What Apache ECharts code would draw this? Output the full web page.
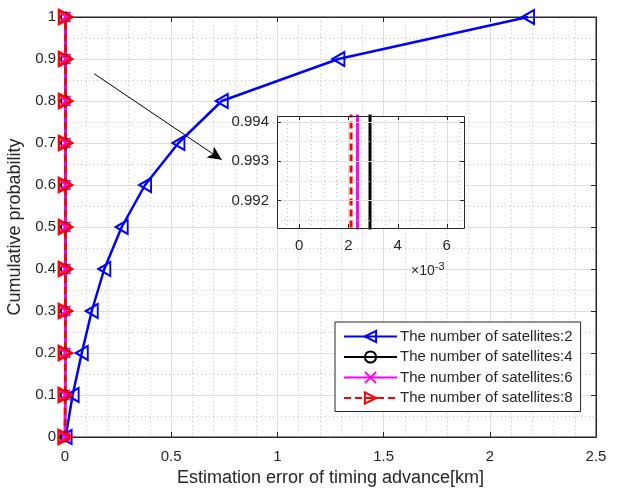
<!DOCTYPE html>
<html>
<head>
<meta charset="utf-8">
<script src="https://cdn.jsdelivr.net/npm/echarts@6/dist/echarts.min.js"></script>
<style>
  html, body { margin: 0; padding: 0; background: #fff; }
  #chart { width: 618px; height: 489px; }
</style>
</head>
<body>
<div id="chart"></div>
<script>
// Cumulative probability levels (shared by all curves)
const probLevels = [0, 0.1, 0.2, 0.3, 0.4, 0.5, 0.6, 0.7, 0.8, 0.9, 1];

// Estimation error of timing advance [km] at each probability level
const errSat2 = [0.003, 0.036, 0.079, 0.126, 0.185, 0.267, 0.377, 0.534, 0.738, 1.287, 2.18];
const errSat4 = [0.0000, 0.0011, 0.0016, 0.0019, 0.0022, 0.0024, 0.0026, 0.0027, 0.0028, 0.00288, 0.00288];
const errSat6 = [0.0000, 0.0009, 0.0013, 0.0016, 0.0018, 0.0020, 0.0021, 0.0022, 0.0023, 0.00237, 0.00237];
const errSat8 = [0.0000, 0.0008, 0.0012, 0.0014, 0.0016, 0.0018, 0.0019, 0.0020, 0.0021, 0.00211, 0.00211];

const seriesNames = [
  'The number of satellites:2',
  'The number of satellites:4',
  'The number of satellites:6',
  'The number of satellites:8'
];

// Main axes
const mainXRange = [0, 2.5];
const mainYRange = [0, 1];

// Zoomed view
const insetXRange = [-0.0009, 0.0067];
const insetYRange = [0.99130, 0.99414];
const insetXTicks = [0, 0.002, 0.004, 0.006];
const insetYTicks = [0.992, 0.993, 0.994];
const insetXMinor = [-0.0005, 0.0005, 0.001, 0.0015, 0.0025, 0.003, 0.0035, 0.0045, 0.005, 0.0055, 0.0065];
const insetYMinor = [0.9915, 0.9925, 0.9935];

// Arrow pointing from the curves near zero to the zoomed view
const arrowFrom = [0.137, 0.865];
const arrowTo = [0.738, 0.660];

const FONT = "'Liberation Sans', Arial, Helvetica, sans-serif";
const TXT = '#262626';
const MAJOR = '#dedede';
const MINOR = '#c4c4c4';
const NONE = 'rgba(0,0,0,0)';

const pairs = arr => probLevels.map((p, i) => [arr[i], p]);

const chart = echarts.init(document.getElementById('chart'), null, { renderer: 'canvas' });

function frameAxis(gridIndex, pos, range, extra) {
  return Object.assign({
    type: 'value', gridIndex: gridIndex, position: pos,
    min: range[0], max: range[1],
    axisLine: { show: true, onZero: false, lineStyle: { color: TXT, width: 1 } },
    axisTick: { show: true, inside: true, length: 5, lineStyle: { color: TXT } },
    axisLabel: { show: false },
    splitLine: { show: false },
    minorTick: { show: false },
    minorSplitLine: { show: false }
  }, extra || {});
}

const labelStyle = { color: TXT, fontFamily: FONT, fontSize: 15 };

// Corners of the zoomed view in pixels
function insetCorners(api) {
  return {
    tl: api.coord([insetXRange[0], insetYRange[1]]),
    br: api.coord([insetXRange[1], insetYRange[0]])
  };
}

// White backing of the zoomed view
function renderInsetBacking(params, api) {
  const { tl, br } = insetCorners(api);
  return {
    type: 'rect',
    shape: { x: tl[0], y: tl[1], width: br[0] - tl[0], height: br[1] - tl[1] },
    style: { fill: '#ffffff', stroke: null }
  };
}

// Grid lines, ticks and frame of the zoomed view
function renderInsetFrame(params, api) {
  const { tl, br } = insetCorners(api);
  const children = [];
  const vLine = (v, style) => {
    const x = Math.round(api.coord([v, insetYRange[0]])[0]) + 0.5;
    children.push({ type: 'line', shape: { x1: x, y1: tl[1], x2: x, y2: br[1] }, style: style });
  };
  const hLine = (v, style) => {
    const y = Math.round(api.coord([insetXRange[0], v])[1]) + 0.5;
    children.push({ type: 'line', shape: { x1: tl[0], y1: y, x2: br[0], y2: y }, style: style });
  };
  const dotted = { stroke: MINOR, lineWidth: 1, lineDash: [1, 3], fill: null };
  const solid = { stroke: MAJOR, lineWidth: 1, fill: null };
  insetXMinor.forEach(v => vLine(v, dotted));
  insetYMinor.forEach(v => hLine(v, dotted));
  insetXTicks.forEach(v => vLine(v, solid));
  insetYTicks.forEach(v => hLine(v, solid));
  const tick = { stroke: TXT, lineWidth: 1, fill: null };
  insetXTicks.forEach(v => {
    const x = Math.round(api.coord([v, insetYRange[0]])[0]) + 0.5;
    children.push({ type: 'line', shape: { x1: x, y1: br[1], x2: x, y2: br[1] - 4 }, style: tick });
    children.push({ type: 'line', shape: { x1: x, y1: tl[1], x2: x, y2: tl[1] + 4 }, style: tick });
  });
  insetYTicks.forEach(v => {
    const y = Math.round(api.coord([insetXRange[0], v])[1]) + 0.5;
    children.push({ type: 'line', shape: { x1: tl[0], y1: y, x2: tl[0] + 4, y2: y }, style: tick });
    children.push({ type: 'line', shape: { x1: br[0], y1: y, x2: br[0] - 4, y2: y }, style: tick });
  });
  children.push({
    type: 'rect',
    shape: { x: Math.round(tl[0]) + 0.5, y: Math.round(tl[1]) + 0.5, width: Math.round(br[0] - tl[0]), height: Math.round(br[1] - tl[1]) },
    style: { fill: null, stroke: TXT, lineWidth: 1 }
  });
  return { type: 'group', children: children };
}

const option = {
  animation: false,
  backgroundColor: '#fff',
  textStyle: { fontFamily: FONT },
  grid: [
    { left: 65, top: 17, width: 531, height: 420, show: true, borderColor: TXT, borderWidth: 1, backgroundColor: NONE, containLabel: false, outerBoundsMode: 'none' },
    { left: 277, top: 116, width: 187, height: 112, show: false, containLabel: false, outerBoundsMode: 'none' }
  ],
  xAxis: [
    // main bottom axis
    {
      type: 'value', gridIndex: 0, position: 'bottom',
      min: mainXRange[0], max: mainXRange[1], interval: 0.5,
      name: 'Estimation error of timing advance[km]',
      nameLocation: 'middle', nameGap: 32,
      nameTextStyle: { color: TXT, fontFamily: FONT, fontSize: 18 },
      axisLine: { show: true, onZero: false, lineStyle: { color: TXT } },
      axisTick: { show: true, inside: true, length: 5, lineStyle: { color: TXT } },
      axisLabel: Object.assign({ margin: 12 }, labelStyle),
      splitLine: { show: true, lineStyle: { color: MAJOR, width: 1 } },
      minorTick: { show: false, splitNumber: 5 },
      minorSplitLine: { show: true, lineStyle: { color: MINOR, width: 1, type: [1, 3] } }
    },
    frameAxis(0, 'top', mainXRange, { interval: 0.5 }),
    // zoomed view
    {
      type: 'value', gridIndex: 1, position: 'bottom',
      min: insetXRange[0], max: insetXRange[1],
      axisLine: { show: false },
      axisTick: { show: false },
      axisLabel: Object.assign({ margin: 10, customValues: insetXTicks, formatter: v => String(Math.round(v * 1000)) }, labelStyle),
      splitLine: { show: false }
    }
  ],
  yAxis: [
    {
      type: 'value', gridIndex: 0, position: 'left',
      min: mainYRange[0], max: mainYRange[1], interval: 0.1,
      name: 'Cumulative probability',
      nameLocation: 'middle', nameGap: 33,
      nameTextStyle: { color: TXT, fontFamily: FONT, fontSize: 18 },
      axisLine: { show: true, onZero: false, lineStyle: { color: TXT } },
      axisTick: { show: true, inside: true, length: 5, lineStyle: { color: TXT } },
      axisLabel: Object.assign({ margin: 9 }, labelStyle),
      splitLine: { show: true, lineStyle: { color: MAJOR, width: 1 } },
      minorTick: { show: false, splitNumber: 2 },
      minorSplitLine: { show: true, lineStyle: { color: MINOR, width: 1, type: [1, 3] } }
    },
    frameAxis(0, 'right', mainYRange, { interval: 0.1 }),
    {
      type: 'value', gridIndex: 1, position: 'left',
      min: insetYRange[0], max: insetYRange[1],
      axisLine: { show: false },
      axisTick: { show: false },
      axisLabel: Object.assign({ margin: 8, customValues: insetYTicks, formatter: v => v.toFixed(3) }, labelStyle),
      splitLine: { show: false }
    }
  ],
  legend: {
    orient: 'vertical',
    left: 335, top: 322,
    data: seriesNames,
    backgroundColor: '#fff',
    borderColor: TXT, borderWidth: 1, borderRadius: 0,
    padding: [7, 8, 6, 8],
    itemGap: 5.5, itemWidth: 53, itemHeight: 14,
    textStyle: { color: TXT, fontFamily: FONT, fontSize: 15, padding: [0, 0, 0, -2] },
    z: 10
  },
  graphic: [
    {
      type: 'text', left: 411, top: 261, z: 10,
      style: {
        text: '{a|\u00d710}{b|-3}',
        rich: {
          a: { fontFamily: FONT, fontSize: 14, fill: TXT, verticalAlign: 'bottom', lineHeight: 17 },
          b: { fontFamily: FONT, fontSize: 11, fill: TXT, verticalAlign: 'top', lineHeight: 17, padding: [0, 0, 8, 0] }
        }
      }
    }
  ],
  series: [
    {
      name: seriesNames[0], type: 'line', xAxisIndex: 0, yAxisIndex: 0,
      data: pairs(errSat2),
      symbol: 'triangle', symbolRotate: 90, symbolSize: [14, 12],
      lineStyle: { color: '#0000ff', width: 2.5 },
      itemStyle: { color: NONE, borderColor: '#0000ff', borderWidth: 2 },
      z: 3,
      markLine: {
        silent: true, animation: false,
        symbol: ['none', 'arrow'], symbolSize: [10, 14],
        lineStyle: { color: '#000', width: 1, type: 'solid' },
        label: { show: false },
        data: [[{ coord: arrowFrom }, { coord: arrowTo }]]
      }
    },
    {
      name: seriesNames[1], type: 'line', xAxisIndex: 0, yAxisIndex: 0,
      data: pairs(errSat4),
      symbol: 'circle', symbolSize: 9,
      lineStyle: { color: '#000000', width: 2.5 },
      itemStyle: { color: NONE, borderColor: '#000000', borderWidth: 2 },
      z: 3
    },
    {
      name: seriesNames[2], type: 'line', xAxisIndex: 0, yAxisIndex: 0,
      data: pairs(errSat6),
      symbol: 'path://M0,0L10,10M10,0L0,10', symbolSize: 10,
      lineStyle: { color: '#ff00ff', width: 2.5 },
      itemStyle: { color: NONE, borderColor: '#ff00ff', borderWidth: 2 },
      z: 3
    },
    {
      name: seriesNames[3], type: 'line', xAxisIndex: 0, yAxisIndex: 0,
      data: pairs(errSat8),
      symbol: 'triangle', symbolRotate: -90, symbolSize: [14, 13],
      lineStyle: { color: '#ff0000', width: 2.5, type: [7, 4] },
      itemStyle: { color: NONE, borderColor: '#ff0000', borderWidth: 2.5 },
      z: 3
    },
    // white backing of the zoomed view
    {
      name: 'insetBacking', type: 'custom', xAxisIndex: 2, yAxisIndex: 2,
      data: [[insetXRange[0], insetYRange[0]]],
      renderItem: renderInsetBacking, silent: true, clip: false, z: 4
    },
    // zoomed view of the curves near zero error
    {
      name: seriesNames[1], type: 'line', xAxisIndex: 2, yAxisIndex: 2,
      data: pairs(errSat4), showSymbol: false, clip: true,
      lineStyle: { color: '#000000', width: 3 }, z: 5
    },
    {
      name: seriesNames[2], type: 'line', xAxisIndex: 2, yAxisIndex: 2,
      data: pairs(errSat6), showSymbol: false, clip: true,
      lineStyle: { color: '#ff00ff', width: 3 }, z: 5
    },
    {
      name: seriesNames[3], type: 'line', xAxisIndex: 2, yAxisIndex: 2,
      data: pairs(errSat8), showSymbol: false, clip: true,
      lineStyle: { color: '#ff0000', width: 3, type: [7, 4] }, z: 5
    },
    // grid lines, ticks and frame of the zoomed view
    {
      name: 'insetFrame', type: 'custom', xAxisIndex: 2, yAxisIndex: 2,
      data: [[insetXRange[0], insetYRange[0]]],
      renderItem: renderInsetFrame, silent: true, clip: false, z: 9
    }
  ]
};

chart.setOption(option);
</script>
</body>
</html>
